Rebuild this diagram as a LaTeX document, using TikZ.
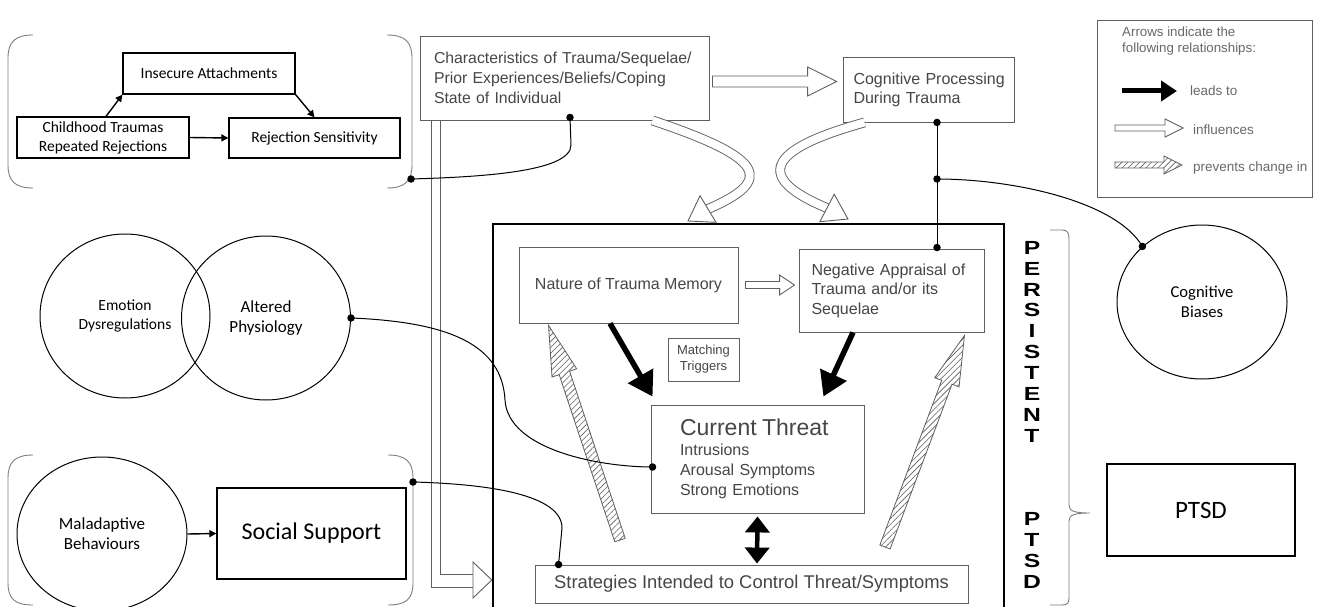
\documentclass[tikz,border=0pt]{standalone}
\usepackage{fontspec}
\usepackage{graphicx}
\setmainfont{Liberation Sans}
\newfontfamily\calibri{Carlito}
\usetikzlibrary{calc,shapes.geometric,arrows.meta,patterns.meta}

\definecolor{scanink}{RGB}{70,70,70}
\definecolor{scanline}{RGB}{95,95,95}
\definecolor{legendink}{RGB}{105,105,105}
\definecolor{grpgray}{RGB}{125,125,125}

% font size shortcut
\newcommand\fs[2]{\fontsize{#1}{#2}\selectfont}
% widened bold letter for the vertical caption
\newcommand\wl[1]{\scalebox{1.3}[1]{#1}}
% broad outlined arrow: style, start, tip, half shaft width, half head width, head length
\newcommand\fatarrow[6]{%
  \coordinate (fahead) at ($(#3)!#6!(#2)$);
  \draw[#1] ($(#2)!#4!90:(#3)$) -- ($(fahead)!#4!90:(#3)$) -- ($(fahead)!#5!90:(#3)$) -- (#3)
    -- ($(fahead)!#5!-90:(#3)$) -- ($(fahead)!#4!-90:(#3)$) -- ($(#2)!#4!-90:(#3)$) -- cycle;}

\tikzset{
  cbox/.style={draw=black, line width=1.2pt, inner sep=0pt, align=center, font=\calibri\fs{15.5}{19}},
  cellipse/.style={ellipse, draw=black, line width=1pt, inner sep=0pt, align=center},
  sbox/.style={draw=scanline, line width=0.9pt, inner sep=0pt, text=scanink},
  jdot/.style={circle, fill=black, inner sep=0pt, minimum size=7.5pt},
  wire/.style={line width=1pt, black},
  cline/.style={line width=1.4pt, black, -{Triangle[length=7pt,width=7pt]}},
  lead/.style={line width=5.5pt, black, -{Triangle[length=24pt,width=28pt]}},
  hollow/.style={draw=scanline, line width=0.9pt, fill=white},
  hatched/.style={draw=scanline, line width=0.8pt, preaction={fill=white},
    pattern={Lines[angle=45,distance=4.2pt,line width=0.6pt]}, pattern color=scanline},
  grpline/.style={draw=grpgray, line width=0.9pt},
  legtext/.style={anchor=west, inner sep=0pt, text=legendink, font=\fs{13.5}{16}},
}

\begin{document}
\begin{tikzpicture}[x=1pt,y=-1pt]
\useasboundingbox (0,0) rectangle (1317,607);
\clip (0,0) rectangle (1317,607);
\fill[white] (0,0) rectangle (1317,607);

% ---------- upper left group ----------
\draw[grpline] (33,35) .. controls (15,35) and (8,42) .. (8,58) -- (8,165) .. controls (8,181) and (15,188) .. (33,188);
\draw[grpline] (387,35) .. controls (405,35) and (412,42) .. (412,58) -- (412,165) .. controls (412,181) and (405,188) .. (387,188);
\coordinate (topgrp) at (411,179);

\node[cbox, minimum width=172pt, minimum height=41pt] (insec) at (209,73.5) {Insecure Attachments};
\node[cbox, minimum width=172pt, minimum height=41pt] (child) at (103,137.5) {Childhood Traumas\\Repeated Rejections};
\node[cbox, minimum width=171pt, minimum height=40pt] (rej) at (314.5,138) {Rejection Sensitivity};
\draw[cline] ($(child.north)+(3,0)$) -- (insec.south west);
\draw[cline] (insec.south east) -- (rej.north);
\draw[cline] (child.east) -- (rej.west);

% ---------- left circles ----------
\node[cellipse, minimum width=170pt, minimum height=164pt, font=\calibri\fs{15.5}{19}] (emo) at (125,316) {Emotion\\Dysregulations};
\node[cellipse, minimum width=169pt, minimum height=164pt, font=\calibri\fs{17}{20}] (alt) at (266,318) {Altered\\Physiology};

% ---------- lower left group ----------
\draw[grpline] (33,455) .. controls (15,455) and (8,462) .. (8,478) -- (8,583) .. controls (8,599) and (15,605) .. (33,605);
\draw[grpline] (388,455) .. controls (406,455) and (413,462) .. (413,478) -- (413,583) .. controls (413,599) and (406,605) .. (388,605);
\coordinate (lowgrp) at (413,482);
\node[cellipse, minimum width=170pt, minimum height=154pt, font=\calibri\fs{17}{20}] (mal) at (102,534) {Maladaptive\\Behaviours};
\node[cbox, minimum width=189pt, minimum height=91pt, font=\calibri\fs{24}{28}] (ss) at (311.5,533.5) {Social Support};
\draw[cline] (mal.east) -- (ss.west);

% ---------- model boxes ----------
\node[sbox, minimum width=289pt, minimum height=84pt, text width=261pt, align=left, font=\fs{15.8}{20}] (char) at (564.5,78)
  {\mbox{Characteristics of Trauma/Sequelae/}\\Prior Experiences/Beliefs/Coping\\State of Individual};
\node[sbox, minimum width=171pt, minimum height=65pt, text width=150pt, align=left, font=\fs{16}{19}] (cog) at (928.5,89.5)
  {\mbox{Cognitive Processing}\\During Trauma};

\node[draw=black, line width=2.4pt, inner sep=0pt, minimum width=511pt, minimum height=396pt] (frame) at (748.5,422) {};

\node[sbox, minimum width=219pt, minimum height=76pt, font=\fs{16}{19}] (nat) at (628.5,285) {Nature of Trauma Memory};
\node[sbox, minimum width=185pt, minimum height=83pt, text width=160pt, align=left, font=\fs{16}{19.5}] (neg) at (891.5,290.5)
  {Negative Appraisal of\\Trauma and/or its\\Sequelae};
\node[sbox, minimum width=71pt, minimum height=43pt, align=center, font=\fs{13}{16}] (mt) at (703.5,359.5) {Matching\\Triggers};
\node[sbox, minimum width=213pt, minimum height=108pt, text width=155pt, align=left, font=\fs{16}{20}] (cur) at (757.5,459)
  {{\fs{23}{24}Current Threat}\\Intrusions\\Arousal Symptoms\\Strong Emotions};
\node[sbox, minimum width=433pt, minimum height=38pt, font=\fs{18.4}{20}] (strat) at (751.5,584)
  {Strategies Intended to Control Threat/Symptoms};

% ---------- right side ----------
\node[cellipse, minimum width=170pt, minimum height=154pt, font=\calibri\fs{16.6}{20}] (cb) at (1202,302) {Cognitive\\Biases};
\node[cbox, minimum width=188pt, minimum height=92pt, font=\calibri\fs{25}{30}] (ptsd) at (1201,510) {PTSD};

\node[anchor=north, inner sep=0pt, align=center, text=black, font=\bfseries\fs{19}{20.875}] (pers) at (1032,241)
  {\wl{P}\\\wl{E}\\\wl{R}\\\wl{S}\\\wl{I}\\\wl{S}\\\wl{T}\\\wl{E}\\\wl{N}\\\wl{T}\\[62.6pt]\wl{P}\\\wl{T}\\\wl{S}\\\wl{D}};
\draw[grpline] (1050,230) -- (1062,230) .. controls (1068,230) and (1069,233) .. (1069,240) -- (1069,505)
  .. controls (1069,511) and (1074,513) .. (1090,513) .. controls (1074,513) and (1069,515) .. (1069,521)
  -- (1069,596) .. controls (1069,603) and (1068,605) .. (1062,605) -- (1050,605);

% ---------- legend ----------
\node[draw=scanline, line width=1pt, inner sep=0pt, minimum width=215pt, minimum height=176pt] (legend) at (1204.5,109) {};
\node[anchor=north west, inner sep=0pt, align=left, text=legendink, font=\fs{13.3}{16}] (legtitle) at (1122,27)
  {Arrows indicate the\\following relationships:};
\coordinate (lg1a) at (1122,91);  \coordinate (lg1b) at (1177,91);
\coordinate (lg2a) at (1115,128); \coordinate (lg2b) at (1183,128);
\coordinate (lg3a) at (1115,165); \coordinate (lg3b) at (1182,165);
\draw[line width=5pt, -{Triangle[length=16pt,width=20pt]}] (lg1a) -- (lg1b);
\fatarrow{hollow}{lg2a}{lg2b}{3pt}{9pt}{18pt}
\fatarrow{hatched}{lg3a}{lg3b}{3pt}{9pt}{18pt}
\node[legtext] (lgt1) at (1190,91) {leads to};
\node[legtext] (lgt2) at (1193,130) {influences};
\node[legtext] (lgt3) at (1193,168) {prevents change in};

% ---------- influence arrows ----------
\coordinate (ia1) at ($(char.east)+(3,3.5)$);
\coordinate (ia2) at ($(cog.west)+(-6,-8)$);
\fatarrow{hollow}{ia1}{ia2}{5.5pt}{14.5pt}{29pt}
\coordinate (ib1) at ($(nat.east)+(7,0)$);
\coordinate (ib2) at ($(neg.west)+(-4,-5.5)$);
\fatarrow{hollow}{ib1}{ib2}{3.5pt}{10pt}{15pt}

% double line from the characteristics box down to the frame
\draw[scanline, line width=0.9pt] ($(char.south west)+(12,0)$) |- (473,587);
\draw[scanline, line width=0.9pt] ($(char.south west)+(21,0)$) |- (473,574);
\draw[hollow] (473,562) -- (frame.west |- 0,580) -- (473,598) -- cycle;

% curved influence arrows into the frame
\coordinate (cl0) at ($(char.south)+(88,0)$);
\coordinate (clh) at (708,209); \coordinate (clt) at (688,221);
\draw[scanline, line width=0.9pt, double=white, double distance=8pt] (cl0) .. controls (765,158) and (775,180) .. (clh);
\draw[hollow] ($(clh)!15.5pt!90:(clt)$) -- (clt) -- ($(clh)!15.5pt!-90:(clt)$) -- cycle;
\coordinate (cr0) at ($(cog.south)+(-64,0)$);
\coordinate (crh) at (827,208); \coordinate (crt) at (848,219);
\draw[scanline, line width=0.9pt, double=white, double distance=8pt] (cr0) .. controls (765,150) and (755,178) .. (crh);
\draw[hollow] ($(crh)!15.5pt!90:(crt)$) -- (crt) -- ($(crh)!15.5pt!-90:(crt)$) -- cycle;

% ---------- prevents-change arrows ----------
\coordinate (hl0) at (620,540);
\coordinate (hl1) at ($(nat.south west)+(30,2)$);
\fatarrow{hatched}{hl0}{hl1}{5.5pt}{13pt}{50pt}
\coordinate (hr0) at (885,547);
\coordinate (hr1) at ($(neg.south east)+(-20,3)$);
\fatarrow{hatched}{hr0}{hr1}{5.5pt}{13pt}{50pt}

% ---------- leads-to arrows ----------
\draw[lead] ($(nat.south)+(-18.5,0)$) -- ($(cur.north west)+(2,-8)$);
\draw[lead] ($(neg.south)+(-38.5,0)$) -- ($(cur.north east)+(-41,-8)$);
\draw[line width=4.5pt, {Triangle[length=16pt,width=24pt]}-{Triangle[length=16pt,width=24pt]}]
  ($(cur.south)+(0,3)$) -- ($(strat.north)+(5.5,-1)$);

% ---------- linking wires ----------
\node[jdot] (dA1) at ($(char.south)+(5.5,-3)$) {};
\node[jdot] (dA2) at (topgrp) {};
\draw[wire] (dA1.center) -- (571,145) .. controls (571,172) and (480,177) .. (dA2.center);

\node[jdot] (dB1) at ($(cog.south)+(8.5,0)$) {};
\node[jdot] (dB2) at (937,179) {};
\node[jdot] (dB3) at ($(neg.north)+(45.5,-1)$) {};
\node[jdot] (dB4) at (cb.137.5) {};
\draw[wire] (dB1.center) -- (dB3.center);
\draw[wire] (dB2.center) .. controls (1010,179) and (1115,200) .. (dB4.center);

\node[jdot] (dC1) at (alt.east) {};
\node[jdot] (dC2) at ($(cur.west)+(2,8)$) {};
\draw[wire] (dC1.center) .. controls (450,322) and (502,345) .. (505,400) .. controls (508,450) and (600,467) .. (dC2.center);

\node[jdot] (dD1) at (lowgrp) {};
\node[jdot] (dD2) at ($(strat.north west)+(24,0)$) {};
\draw[wire] (dD1.center) .. controls (490,484) and (562,495) .. (562,528) -- (dD2.center);
\end{tikzpicture}
\end{document}
